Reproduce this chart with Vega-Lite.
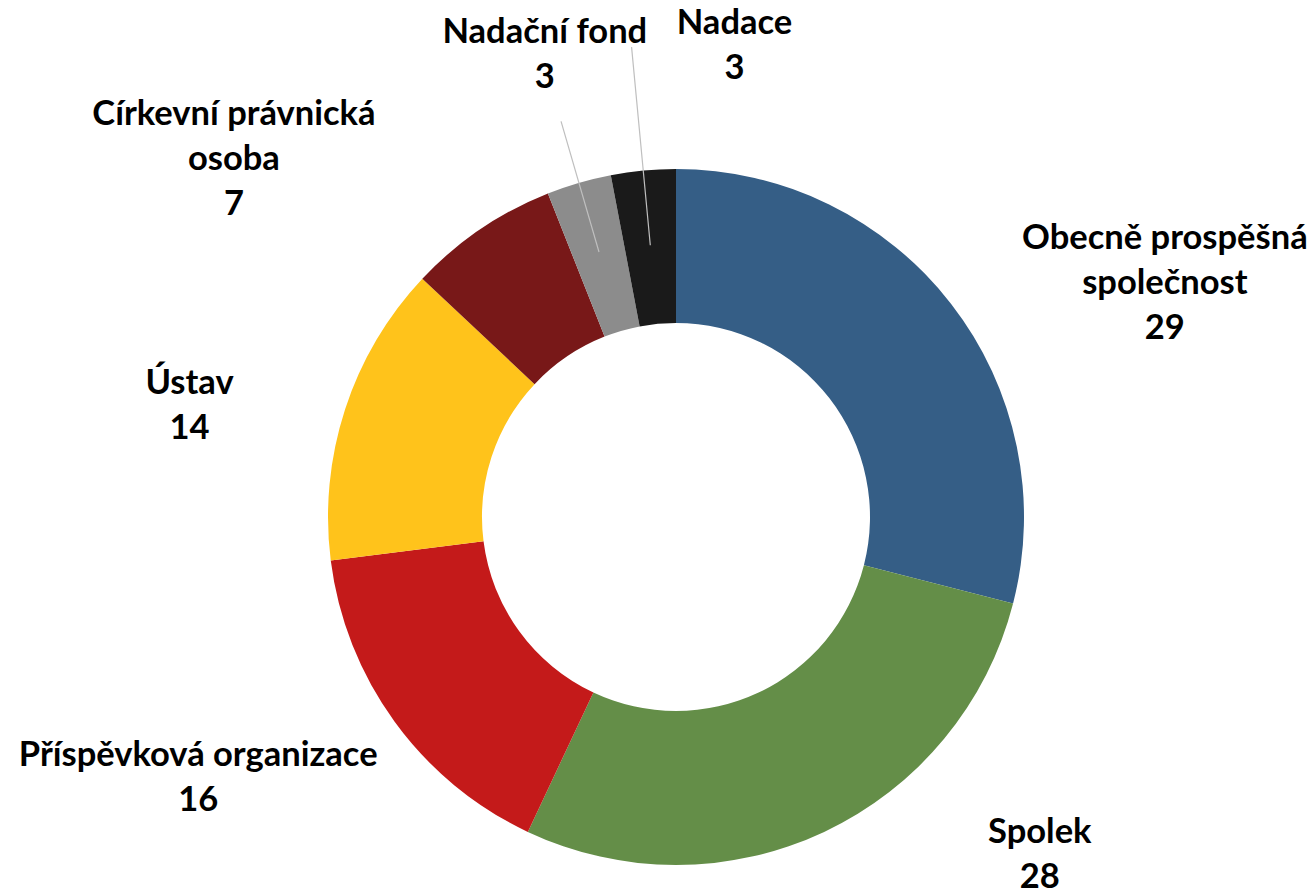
{
  "$schema": "https://vega.github.io/schema/vega-lite/v6.json",
  "width": 1276,
  "height": 754,
  "autosize": {"type": "none"},
  "padding": {"left": 38, "top": 140, "right": 0, "bottom": 0},
  "background": "white",
  "config": {"view": {"stroke": null}},
  "data": {
    "values": [
      {"kategorie": "Obecně prospěšná společnost", "popisek": "Obecně prospěšná\nspolečnost\n29", "pocet": 29, "poradi": 1},
      {"kategorie": "Spolek", "popisek": "Spolek\n28", "pocet": 28, "poradi": 2},
      {"kategorie": "Příspěvková organizace", "popisek": "Příspěvková organizace\n16", "pocet": 16, "poradi": 3},
      {"kategorie": "Ústav", "popisek": "Ústav\n14", "pocet": 14, "poradi": 4},
      {"kategorie": "Církevní právnická osoba", "popisek": "Církevní právnická\nosoba\n7", "pocet": 7, "poradi": 5},
      {"kategorie": "Nadační fond", "popisek": "Nadační fond\n3", "pocet": 3, "poradi": 6},
      {"kategorie": "Nadace", "popisek": "Nadace\n3", "pocet": 3, "poradi": 7}
    ]
  },
  "encoding": {
    "theta": {"field": "pocet", "type": "quantitative", "stack": true},
    "order": {"field": "poradi", "type": "quantitative"}
  },
  "layer": [
    {
      "mark": {"type": "arc", "innerRadius": 194, "outerRadius": 348},
      "encoding": {
        "color": {
          "field": "kategorie",
          "type": "nominal",
          "scale": {
            "domain": ["Obecně prospěšná společnost", "Spolek", "Příspěvková organizace", "Ústav", "Církevní právnická osoba", "Nadační fond", "Nadace"],
            "range": ["#355E86", "#648E48", "#C41A1A", "#FFC31B", "#781818", "#8C8C8C", "#1A1A1A"]
          },
          "legend": null
        }
      }
    },
    {
      "mark": {"type": "arc", "innerRadius": 276, "outerRadius": 412, "padAngle": 1, "fillOpacity": 0, "stroke": "#BFBFBF", "strokeWidth": 1.2},
      "encoding": {
        "strokeOpacity": {"condition": {"test": "datum.kategorie === 'Nadační fond'", "value": 1}, "value": 0}
      }
    },
    {
      "mark": {"type": "arc", "innerRadius": 273, "outerRadius": 472, "padAngle": 1, "fillOpacity": 0, "stroke": "#BFBFBF", "strokeWidth": 1.2},
      "encoding": {
        "strokeOpacity": {"condition": {"test": "datum.kategorie === 'Nadace'", "value": 1}, "value": 0}
      }
    },
    {
      "mark": {
        "type": "text",
        "radius": 420,
        "font": "Lato",
        "fontWeight": "bold",
        "fontSize": 34.5,
        "lineHeight": 45,
        "lineBreak": "\n",
        "align": "center",
        "baseline": "middle",
        "color": "#000000",
        "dx": {"expr": "[157, 185, -138, -87, -206, -14, 98][datum.poradi - 1]"},
        "dy": {"expr": "[-21, -64, -8, -3, -55, -81, -75][datum.poradi - 1]"}
      },
      "encoding": {
        "text": {"field": "popisek", "type": "nominal"}
      }
    }
  ]
}
